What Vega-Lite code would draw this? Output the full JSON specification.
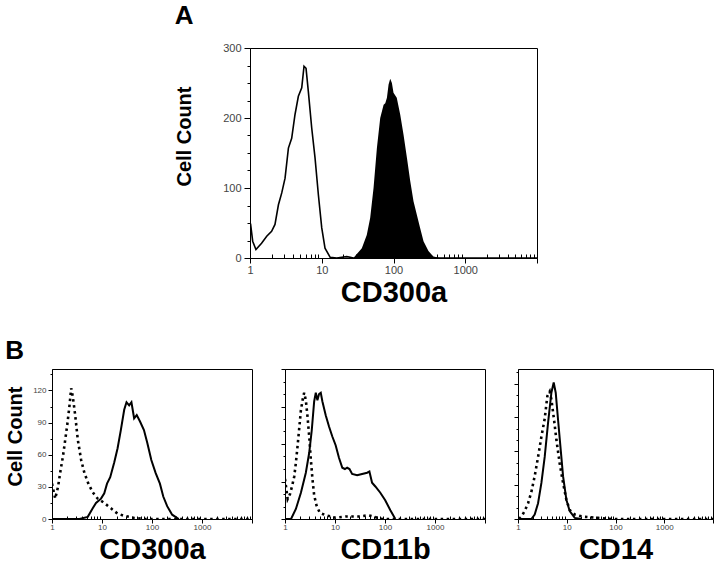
{
  "$schema": "https://vega.github.io/schema/vega-lite/v6.json",
  "padding": {"left": 5, "top": 2, "right": 2, "bottom": 2},
  "config": {
    "font": "Liberation Sans",
    "view": {"stroke": "black", "strokeWidth": 1},
    "axis": {"grid": false, "domainColor": "black", "tickColor": "black", "labelColor": "#444", "labelFont": "Liberation Sans", "titleFont": "Liberation Sans", "titleFontWeight": "bold", "titleColor": "black", "labelOverlap": false, "labelFlush": false}
  },
  "datasets": {
    "a": [
      {"s":"i","v":1,"c":48},{"s":"i","v":1.02,"c":48},{"s":"i","v":1.09,"c":24},{"s":"i","v":1.21,"c":12},{"s":"i","v":1.45,"c":21},{"s":"i","v":1.71,"c":31},{"s":"i","v":2.0,"c":38},{"s":"i","v":2.23,"c":48},{"s":"i","v":2.49,"c":76},{"s":"i","v":2.77,"c":93},{"s":"i","v":3.08,"c":114},{"s":"i","v":3.43,"c":157},{"s":"i","v":3.81,"c":171},{"s":"i","v":4.24,"c":205},{"s":"i","v":4.72,"c":231},{"s":"i","v":5.26,"c":243},{"s":"i","v":5.66,"c":274},{"s":"i","v":6.04,"c":271},{"s":"i","v":6.5,"c":238},{"s":"i","v":7.24,"c":186},{"s":"i","v":8.06,"c":143},{"s":"i","v":8.98,"c":90},{"s":"i","v":10,"c":43},{"s":"i","v":11.1,"c":14},{"s":"i","v":13.1,"c":1},{"s":"i","v":16.2,"c":0},{"s":"i","v":19,"c":1},{"s":"i","v":22.3,"c":2},{"s":"i","v":25,"c":1},{"s":"i","v":27.6,"c":0},{"s":"i","v":10000,"c":0},
      {"s":"p","v":27.6,"c":0},{"s":"p","v":36.2,"c":14},{"s":"p","v":42.4,"c":33},{"s":"p","v":47.3,"c":57},{"s":"p","v":52.7,"c":100},{"s":"p","v":58.7,"c":157},{"s":"p","v":65.3,"c":200},{"s":"p","v":72.8,"c":219},{"s":"p","v":76.8,"c":221},{"s":"p","v":81,"c":229},{"s":"p","v":85.4,"c":248},{"s":"p","v":90,"c":256},{"s":"p","v":95,"c":250},{"s":"p","v":100,"c":236},{"s":"p","v":111,"c":229},{"s":"p","v":124,"c":205},{"s":"p","v":138,"c":176},{"s":"p","v":154,"c":143},{"s":"p","v":171,"c":110},{"s":"p","v":190,"c":81},{"s":"p","v":211,"c":62},{"s":"p","v":235,"c":43},{"s":"p","v":262,"c":24},{"s":"p","v":307,"c":10},{"s":"p","v":360,"c":2},{"s":"p","v":446,"c":0}
    ],
    "b1": [
      {"s":"i","v":1,"c":33},{"s":"i","v":1.16,"c":19},{"s":"i","v":1.32,"c":30},{"s":"i","v":1.49,"c":46},{"s":"i","v":1.65,"c":58},{"s":"i","v":1.84,"c":74},{"s":"i","v":2.02,"c":88},{"s":"i","v":2.24,"c":106},{"s":"i","v":2.42,"c":122},{"s":"i","v":2.61,"c":114},{"s":"i","v":2.91,"c":97},{"s":"i","v":3.28,"c":74},{"s":"i","v":3.83,"c":55},{"s":"i","v":4.45,"c":43},{"s":"i","v":5.34,"c":33},{"s":"i","v":6.52,"c":25},{"s":"i","v":8.2,"c":19},{"s":"i","v":11.1,"c":15},{"s":"i","v":15.1,"c":10},{"s":"i","v":20.5,"c":5},{"s":"i","v":27.8,"c":3},{"s":"i","v":43.9,"c":1},{"s":"i","v":69,"c":0},{"s":"i","v":10000,"c":0},
      {"s":"p","v":1,"c":0},{"s":"p","v":3.54,"c":0},{"s":"p","v":5.19,"c":2},{"s":"p","v":6.52,"c":10},{"s":"p","v":7.59,"c":15},{"s":"p","v":9.55,"c":19},{"s":"p","v":11.1,"c":24},{"s":"p","v":12.6,"c":33},{"s":"p","v":14.6,"c":39},{"s":"p","v":17.6,"c":53},{"s":"p","v":20.5,"c":66},{"s":"p","v":23.8,"c":83},{"s":"p","v":27.8,"c":102},{"s":"p","v":30.9,"c":109},{"s":"p","v":34.9,"c":106},{"s":"p","v":38.8,"c":109},{"s":"p","v":43.9,"c":94},{"s":"p","v":49.5,"c":97},{"s":"p","v":57.6,"c":91},{"s":"p","v":69,"c":83},{"s":"p","v":80.6,"c":71},{"s":"p","v":96.9,"c":55},{"s":"p","v":118,"c":43},{"s":"p","v":144,"c":33},{"s":"p","v":168,"c":21},{"s":"p","v":201,"c":12},{"s":"p","v":253,"c":4},{"s":"p","v":343,"c":0}
    ],
    "b2": [
      {"s":"i","v":1,"c":32},{"s":"i","v":1.13,"c":16},{"s":"i","v":1.26,"c":20},{"s":"i","v":1.38,"c":26},{"s":"i","v":1.53,"c":34},{"s":"i","v":1.65,"c":45},{"s":"i","v":1.79,"c":59},{"s":"i","v":1.93,"c":73},{"s":"i","v":2.08,"c":87},{"s":"i","v":2.31,"c":98},{"s":"i","v":2.42,"c":101},{"s":"i","v":2.61,"c":95},{"s":"i","v":2.82,"c":82},{"s":"i","v":3.05,"c":66},{"s":"i","v":3.28,"c":48},{"s":"i","v":3.54,"c":32},{"s":"i","v":3.83,"c":19},{"s":"i","v":4.26,"c":11},{"s":"i","v":4.96,"c":5},{"s":"i","v":6.5,"c":3},{"s":"i","v":10.3,"c":1},{"s":"i","v":16.3,"c":2},{"s":"i","v":30,"c":2},{"s":"i","v":47,"c":3},{"s":"i","v":59,"c":2},{"s":"i","v":87,"c":0},{"s":"i","v":10000,"c":0},
      {"s":"p","v":1,"c":0},{"s":"p","v":1.32,"c":0},{"s":"p","v":1.65,"c":8},{"s":"p","v":2.08,"c":21},{"s":"p","v":2.61,"c":37},{"s":"p","v":3.05,"c":53},{"s":"p","v":3.43,"c":71},{"s":"p","v":3.83,"c":94},{"s":"p","v":4.13,"c":101},{"s":"p","v":4.45,"c":95},{"s":"p","v":4.8,"c":100},{"s":"p","v":5.19,"c":101},{"s":"p","v":5.6,"c":94},{"s":"p","v":6.52,"c":83},{"s":"p","v":7.59,"c":74},{"s":"p","v":8.84,"c":66},{"s":"p","v":10.3,"c":59},{"s":"p","v":12,"c":49},{"s":"p","v":14,"c":41},{"s":"p","v":15.8,"c":40},{"s":"p","v":17.5,"c":41},{"s":"p","v":19.5,"c":40},{"s":"p","v":22,"c":36},{"s":"p","v":27.7,"c":35},{"s":"p","v":34.9,"c":36},{"s":"p","v":43.9,"c":37},{"s":"p","v":48.8,"c":38},{"s":"p","v":55.1,"c":29},{"s":"p","v":64.1,"c":26},{"s":"p","v":80.6,"c":21},{"s":"p","v":101,"c":15},{"s":"p","v":128,"c":7},{"s":"p","v":161,"c":0}
    ],
    "b3": [
      {"s":"i","v":1.05,"c":0},{"s":"i","v":1.17,"c":2},{"s":"i","v":1.37,"c":7},{"s":"i","v":1.61,"c":14},{"s":"i","v":1.88,"c":24},{"s":"i","v":2.2,"c":38},{"s":"i","v":2.58,"c":55},{"s":"i","v":3.02,"c":73},{"s":"i","v":3.53,"c":89},{"s":"i","v":4.0,"c":109},{"s":"i","v":4.47,"c":113},{"s":"i","v":4.84,"c":106},{"s":"i","v":5.49,"c":88},{"s":"i","v":6.14,"c":70},{"s":"i","v":7.18,"c":49},{"s":"i","v":8.4,"c":32},{"s":"i","v":9.83,"c":17},{"s":"i","v":11.5,"c":8},{"s":"i","v":14.6,"c":4},{"s":"i","v":21.7,"c":2},{"s":"i","v":44,"c":1},{"s":"i","v":83,"c":0},{"s":"i","v":10000,"c":0},
      {"s":"p","v":1,"c":0},{"s":"p","v":1.88,"c":0},{"s":"p","v":2.2,"c":4},{"s":"p","v":2.58,"c":14},{"s":"p","v":3.02,"c":32},{"s":"p","v":3.53,"c":55},{"s":"p","v":4.13,"c":85},{"s":"p","v":4.84,"c":112},{"s":"p","v":5.4,"c":121},{"s":"p","v":5.94,"c":112},{"s":"p","v":6.63,"c":88},{"s":"p","v":7.53,"c":61},{"s":"p","v":8.4,"c":38},{"s":"p","v":9.83,"c":17},{"s":"p","v":11.5,"c":7},{"s":"p","v":14.6,"c":1},{"s":"p","v":20,"c":0}
    ]
  },
  "vconcat": [
    {
      "spacing": 20,
      "hconcat": [
        {"width": 102, "height": 10, "data": {"values": []}, "mark": {"type": "point", "opacity": 0}, "encoding": {}, "view": {"stroke": null}},
        {
          "title": {"text": "A", "anchor": "start", "frame": "bounds", "fontSize": 26, "fontWeight": "bold", "font": "Liberation Sans", "offset": 13},
          "width": 287, "height": 210,
          "data": {"name": "a"},
          "encoding": {
            "x": {"field": "v", "type": "quantitative", "scale": {"type": "log", "domain": [1, 10000]},
              "axis": {"title": "CD300a", "titleFontSize": 29, "titlePadding": 3, "labelFontSize": 11, "labelPadding": 1,
                "values": [1,2,3,4,5,6,7,8,9,10,20,30,40,50,60,70,80,90,100,200,300,400,500,600,700,800,900,1000,2000,3000,4000,5000,6000,7000,8000,9000,10000],
                "labelExpr": "indexof([1,10,100,1000], datum.value) >= 0 ? format(datum.value, 'd') : ''",
                "tickSize": {"condition": {"test": "indexof([1,10,100,1000,10000], datum.value) >= 0", "value": 5}, "value": -4}}},
            "y": {"field": "c", "type": "quantitative", "scale": {"domain": [0, 300]},
              "axis": {"title": "Cell Count", "titleFontSize": 20, "titlePadding": 28, "titleY": 88, "labelFontSize": 11, "labelPadding": 3,
                "values": [0,25,50,75,100,125,150,175,200,225,250,275,300],
                "labelExpr": "datum.value % 100 == 0 ? datum.label : ''",
                "tickSize": {"condition": {"test": "datum.value % 100 == 0", "value": 6}, "value": 3}}}
          },
          "layer": [
            {"transform": [{"filter": "datum.s == 'p'"}], "mark": {"type": "area", "color": "black", "clip": true}},
            {"transform": [{"filter": "datum.s == 'i'"}], "mark": {"type": "line", "color": "black", "strokeWidth": 1.6, "clip": true}}
          ]
        }
      ]
    },
    {
      "title": {"text": "B", "anchor": "start", "frame": "bounds", "fontSize": 26, "fontWeight": "bold", "font": "Liberation Sans", "offset": 4},
      "spacing": 27,
      "hconcat": [
        {
          "width": 200, "height": 150,
          "data": {"name": "b1"},
          "encoding": {
            "x": {"field": "v", "type": "quantitative", "scale": {"type": "log", "domain": [1, 10000]},
              "axis": {"title": "CD300a", "titleFontSize": 29, "titlePadding": 4, "labelFontSize": 8, "labelPadding": 0,
                "values": [1,2,3,4,5,6,7,8,9,10,20,30,40,50,60,70,80,90,100,200,300,400,500,600,700,800,900,1000,2000,3000,4000,5000,6000,7000,8000,9000,10000],
                "labelExpr": "indexof([1,10,100,1000], datum.value) >= 0 ? format(datum.value, 'd') : ''",
                "tickSize": {"condition": {"test": "indexof([1,10,100,1000,10000], datum.value) >= 0", "value": 4}, "value": -3}}},
            "y": {"field": "c", "type": "quantitative", "scale": {"domain": [0, 140]},
              "axis": {"title": "Cell Count", "titleFontSize": 20, "titlePadding": 7, "titleY": 67, "labelFontSize": 8, "labelPadding": 2,
                "values": [0,15,30,45,60,75,90,105,120,135],
                "labelExpr": "datum.value % 30 == 0 ? datum.label : ''",
                "tickSize": {"condition": {"test": "datum.value % 30 == 0", "value": 4}, "value": 2}}}
          },
          "layer": [
            {"transform": [{"filter": "datum.s == 'i'"}], "mark": {"type": "line", "color": "black", "strokeWidth": 2.6, "strokeDash": [2.5, 3.5], "clip": true}},
            {"transform": [{"filter": "datum.s == 'p'"}], "mark": {"type": "line", "color": "black", "strokeWidth": 2, "clip": true}}
          ]
        },
        {
          "width": 200, "height": 150,
          "data": {"name": "b2"},
          "encoding": {
            "x": {"field": "v", "type": "quantitative", "scale": {"type": "log", "domain": [1, 10000]},
              "axis": {"title": "CD11b", "titleFontSize": 29, "titlePadding": 4, "labelFontSize": 8, "labelPadding": 0,
                "values": [1,2,3,4,5,6,7,8,9,10,20,30,40,50,60,70,80,90,100,200,300,400,500,600,700,800,900,1000,2000,3000,4000,5000,6000,7000,8000,9000,10000],
                "labelExpr": "indexof([1,10,100,1000], datum.value) >= 0 ? format(datum.value, 'd') : ''",
                "tickSize": {"condition": {"test": "indexof([1,10,100,1000,10000], datum.value) >= 0", "value": 4}, "value": -3}}},
            "y": {"field": "c", "type": "quantitative", "scale": {"domain": [0, 120]},
              "axis": {"title": null, "labels": false,
                "values": [0,10,20,30,40,50,60,70,80,90,100,110,120],
                "tickSize": {"condition": {"test": "datum.value % 30 == 0", "value": 4}, "value": 2}}}
          },
          "layer": [
            {"transform": [{"filter": "datum.s == 'i'"}], "mark": {"type": "line", "color": "black", "strokeWidth": 2.6, "strokeDash": [2.5, 3.5], "clip": true}},
            {"transform": [{"filter": "datum.s == 'p'"}], "mark": {"type": "line", "color": "black", "strokeWidth": 2, "clip": true}}
          ]
        },
        {
          "width": 195, "height": 150,
          "data": {"name": "b3"},
          "encoding": {
            "x": {"field": "v", "type": "quantitative", "scale": {"type": "log", "domain": [1, 10000]},
              "axis": {"title": "CD14", "titleFontSize": 29, "titlePadding": 4, "labelFontSize": 8, "labelPadding": 0,
                "values": [1,2,3,4,5,6,7,8,9,10,20,30,40,50,60,70,80,90,100,200,300,400,500,600,700,800,900,1000,2000,3000,4000,5000,6000,7000,8000,9000,10000],
                "labelExpr": "indexof([1,10,100,1000], datum.value) >= 0 ? format(datum.value, 'd') : ''",
                "tickSize": {"condition": {"test": "indexof([1,10,100,1000,10000], datum.value) >= 0", "value": 4}, "value": -3}}},
            "y": {"field": "c", "type": "quantitative", "scale": {"domain": [0, 133]},
              "axis": {"title": null, "labels": false,
                "values": [0,10,20,30,40,50,60,70,80,90,100,110,120,130],
                "tickSize": {"condition": {"test": "datum.value % 30 == 0", "value": 4}, "value": 2}}}
          },
          "layer": [
            {"transform": [{"filter": "datum.s == 'i'"}], "mark": {"type": "line", "color": "black", "strokeWidth": 2.6, "strokeDash": [2.5, 3.5], "clip": true}},
            {"transform": [{"filter": "datum.s == 'p'"}], "mark": {"type": "line", "color": "black", "strokeWidth": 2, "clip": true}}
          ]
        }
      ]
    }
  ],
  "spacing": 30
}
